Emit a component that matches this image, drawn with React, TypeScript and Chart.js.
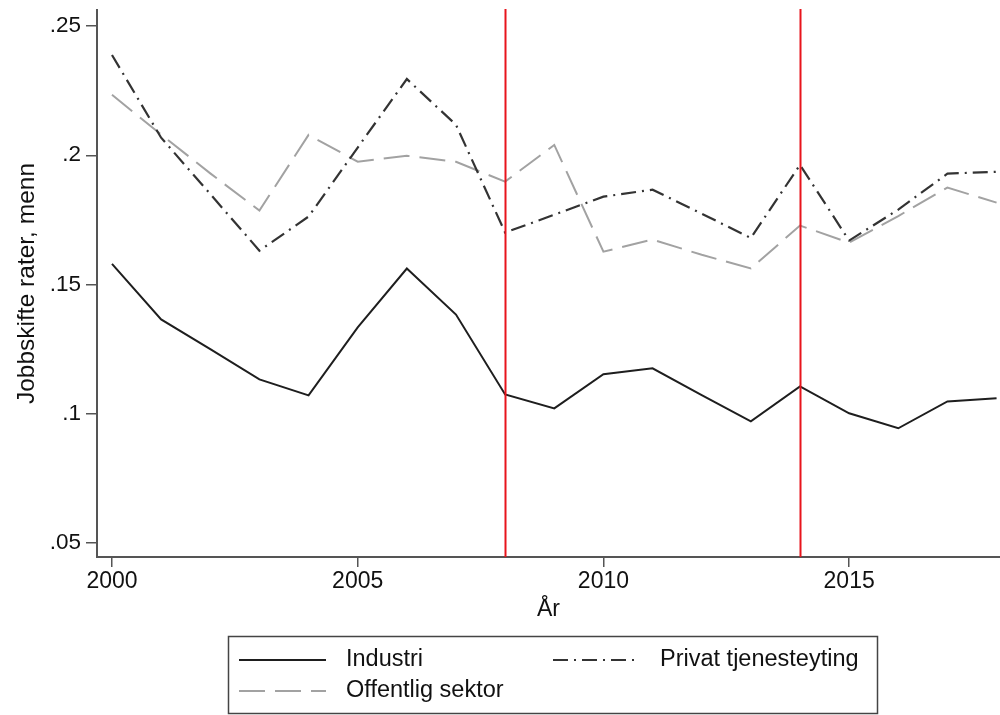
import React, { useEffect, useRef } from "react";
import { Chart, registerables } from "chart.js";

Chart.register(...registerables);

const years = [2000, 2001, 2002, 2003, 2004, 2005, 2006, 2007, 2008, 2009, 2010, 2011, 2012, 2013, 2014, 2015, 2016, 2017, 2018];
const industri = [0.158, 0.1365, 0.125, 0.1133, 0.1071, 0.1334, 0.1562, 0.1384, 0.1075, 0.1021, 0.1153, 0.1176, 0.1072, 0.0971, 0.1106, 0.1002, 0.0944, 0.1048, 0.106];
const privat = [0.2388, 0.2068, 0.185, 0.1631, 0.1763, 0.203, 0.2295, 0.2118, 0.1701, 0.177, 0.184, 0.1867, 0.1774, 0.168, 0.1963, 0.167, 0.179, 0.1929, 0.1936];
const offentlig = [0.2234, 0.208, 0.193, 0.1786, 0.2079, 0.1975, 0.1998, 0.1975, 0.1898, 0.204, 0.1627, 0.1674, 0.1615, 0.1562, 0.1728, 0.1662, 0.1765, 0.1875, 0.1817];
const seriesNames = ["Industri", "Privat tjenesteyting", "Offentlig sektor"];
const eventYears = [2008, 2014];
const xTickValues = [2000, 2005, 2010, 2015];
const yTickValues = [0.05, 0.1, 0.15, 0.2, 0.25];
const yTickLabels = [".05", ".1", ".15", ".2", ".25"];
const xTitle = "År";
const yTitle = "Jobbskifte rater, menn";

const FONT = '"Liberation Sans", Arial, Helvetica, sans-serif';
const TEXT = "#111111";
const AXIS = "#555555";

const eventLinesPlugin = {
  id: "eventLines",
  afterDatasetsDraw(chart: any) {
    const { ctx, chartArea, scales } = chart;
    ctx.save();
    ctx.strokeStyle = "#e8141c";
    ctx.lineWidth = 2;
    eventYears.forEach((yr) => {
      const x = Math.round(scales.x.getPixelForValue(yr)) + 0.5;
      ctx.beginPath();
      ctx.moveTo(x, chartArea.top - 1);
      ctx.lineTo(x, chartArea.bottom);
      ctx.stroke();
    });
    ctx.restore();
  },
};

const legendPlugin = {
  id: "boxLegend",
  afterDraw(chart: any) {
    const { ctx } = chart;
    const ds = chart.data.datasets;
    ctx.save();
    ctx.strokeStyle = "#444";
    ctx.lineWidth = 1.5;
    ctx.strokeRect(228.5, 636.5, 649, 77);
    const items = [
      { i: 0, x: 239, y: 660 },
      { i: 1, x: 553, y: 660 },
      { i: 2, x: 239, y: 691 },
    ];
    items.forEach(({ i, x, y }) => {
      const d = ds[i];
      ctx.save();
      ctx.strokeStyle = d.borderColor;
      ctx.lineWidth = d.borderWidth;
      ctx.setLineDash(d.borderDash || []);
      ctx.beginPath();
      ctx.moveTo(x, y);
      ctx.lineTo(x + 87, y);
      ctx.stroke();
      ctx.restore();
      ctx.fillStyle = TEXT;
      ctx.font = `23.5px ${FONT}`;
      ctx.textBaseline = "middle";
      ctx.textAlign = "left";
      ctx.fillText(d.label, x + 107, y);
    });
    ctx.restore();
  },
};

export default function App() {
  const ref = useRef<HTMLCanvasElement | null>(null);
  useEffect(() => {
    document.body.style.margin = "0";
    const canvas = ref.current;
    if (!canvas) return;
    const mk = (vals: number[]) => years.map((x, i) => ({ x, y: vals[i] }));
    const chart = new Chart(canvas, {
      type: "line",
      data: {
        datasets: [
          { label: seriesNames[0], data: mk(industri), borderColor: "#1e1e1e", borderWidth: 2, pointRadius: 0, tension: 0, borderDash: [] },
          { label: seriesNames[1], data: mk(privat), borderColor: "#333333", borderWidth: 2.2, pointRadius: 0, tension: 0, borderDash: [15, 6, 2, 6] },
          { label: seriesNames[2], data: mk(offentlig), borderColor: "#a2a2a2", borderWidth: 2, pointRadius: 0, tension: 0, borderDash: [26, 10] },
        ],
      },
      options: {
        animation: false,
        responsive: false,
        maintainAspectRatio: false,
        layout: { padding: { top: 10, left: 0, right: 0, bottom: 92 } },
        plugins: { legend: { display: false }, tooltip: { enabled: false } },
        scales: {
          x: {
            type: "linear",
            min: 1999.695,
            max: 2018.07,
            afterBuildTicks: (s: any) => {
              s.ticks = xTickValues.map((v) => ({ value: v }));
            },
            afterFit: (s: any) => {
              s.height = 66;
              s.paddingLeft = 0;
              s.paddingRight = 0;
            },
            ticks: {
              callback: (v: any) => String(v),
              font: { size: 23, family: FONT },
              color: TEXT,
              padding: 1,
              maxRotation: 0,
              autoSkip: false,
            },
            grid: { display: true, drawOnChartArea: false, drawTicks: true, tickLength: 10, color: AXIS, lineWidth: 1.5 },
            border: { display: true, color: AXIS, width: 2 },
            title: { display: true, text: xTitle, font: { size: 23, family: FONT }, color: TEXT, padding: 0 },
          },
          y: {
            type: "linear",
            min: 0.0446,
            max: 0.2562,
            afterBuildTicks: (s: any) => {
              s.ticks = yTickValues.map((v) => ({ value: v }));
            },
            afterFit: (s: any) => {
              s.width = 97;
              s.paddingTop = 0;
              s.paddingBottom = 0;
            },
            ticks: {
              callback: (_v: any, i: number) => yTickLabels[i],
              font: { size: 22.5, family: FONT },
              color: TEXT,
              padding: 5,
              autoSkip: false,
            },
            grid: { display: true, drawOnChartArea: false, drawTicks: true, tickLength: 11, color: AXIS, lineWidth: 1.5 },
            border: { display: true, color: AXIS, width: 2 },
            title: { display: true, text: yTitle, font: { size: 24.5, family: FONT }, color: TEXT, padding: { top: 13, bottom: 0 } },
          },
        },
      },
      plugins: [eventLinesPlugin, legendPlugin],
    } as any);
    return () => chart.destroy();
  }, []);
  return (
    <div style={{ width: 1000, height: 715 }}>
      <canvas ref={ref} width={1000} height={715} style={{ display: "block", width: 1000, height: 715 }} />
    </div>
  );
}
